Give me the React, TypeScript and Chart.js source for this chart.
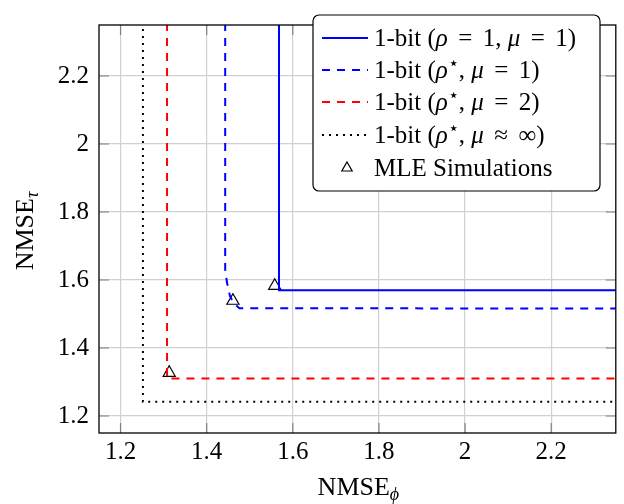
import { useEffect, useRef } from 'react';
import { Chart, registerables } from 'chart.js';

Chart.register(...registerables);

const tickValues = [1.2, 1.4, 1.6, 1.8, 2.0, 2.2];
const axisMin = 1.15;
const axisMax = 2.35;

const seriesNames = [
  '1-bit (ρ = 1, μ = 1)',
  '1-bit (ρ⋆, μ = 1)',
  '1-bit (ρ⋆, μ = 2)',
  '1-bit (ρ⋆, μ ≈ ∞)',
  'MLE Simulations',
];

const rho1Mu1X = [1.568, 1.568, 2.4];
const rho1Mu1Y = [2.4, 1.57, 1.57];

const rhoStarMu1X = [1.443, 1.443, 1.447, 1.454, 1.462, 1.476, 2.4];
const rhoStarMu1Y = [2.4, 1.631, 1.594, 1.553, 1.533, 1.517, 1.516];

const rhoStarMu2X = [1.308, 1.308, 2.4];
const rhoStarMu2Y = [2.4, 1.31, 1.31];

const rhoStarInfX = [1.252, 1.252, 2.4];
const rhoStarInfY = [2.4, 1.242, 1.242];

const mleX = [1.558, 1.461, 1.313];
const mleY = [1.583, 1.539, 1.327];

const SERIF = '"Liberation Serif", "DejaVu Serif", serif';

type Seg = [string, 'n' | 'i' | 'sup' | 'sub'];

const SP = '\u2004\u200A'; // math-like spacing around relations
const legendSegs: Seg[][] = [
  [['1-bit (', 'n'], ['ρ', 'i'], [SP + '=' + SP + '1, ', 'n'], ['μ', 'i'], [SP + '=' + SP + '1)', 'n']],
  [['1-bit (', 'n'], ['ρ', 'i'], ['⋆', 'sup'], [', ', 'n'], ['μ', 'i'], [SP + '=' + SP + '1)', 'n']],
  [['1-bit (', 'n'], ['ρ', 'i'], ['⋆', 'sup'], [', ', 'n'], ['μ', 'i'], [SP + '=' + SP + '2)', 'n']],
  [['1-bit (', 'n'], ['ρ', 'i'], ['⋆', 'sup'], [', ', 'n'], ['μ', 'i'], [SP + '≈' + SP + '∞)', 'n']],
  [['MLE Simulations', 'n']],
];

const pts = (xs: number[], ys: number[]) => xs.map((x, i) => ({ x, y: ys[i] }));

function fontFor(kind: string, size: number) {
  if (kind === 'i') return `italic ${size}px ${SERIF}`;
  if (kind === 'sup') return `${Math.round(size * 0.7)}px ${SERIF}`;
  if (kind === 'sub') return `italic ${Math.round(size * 0.7)}px ${SERIF}`;
  return `${size}px ${SERIF}`;
}

function drawSegs(ctx: CanvasRenderingContext2D, segs: Seg[], x: number, y: number, size: number, measureOnly = false) {
  let cx = x;
  for (const [t, k] of segs) {
    ctx.font = fontFor(k, size);
    let dy = 0;
    if (k === 'sup') dy = -size * 0.38;
    if (k === 'sub') dy = size * 0.2;
    if (!measureOnly) ctx.fillText(t, cx, y + dy);
    cx += ctx.measureText(t).width;
  }
  return cx - x;
}

const framePlugin = {
  id: 'frame',
  afterDatasetsDraw(chart: any) {
    const { ctx, chartArea: a, scales } = chart;
    ctx.save();
    ctx.strokeStyle = '#808080';
    ctx.lineWidth = 1.2;
    const tl = 10;
    for (const v of tickValues) {
      const px = scales.x.getPixelForValue(v);
      const py = scales.y.getPixelForValue(v);
      ctx.beginPath();
      ctx.moveTo(px, a.bottom); ctx.lineTo(px, a.bottom - tl);
      ctx.moveTo(px, a.top); ctx.lineTo(px, a.top + tl);
      ctx.moveTo(a.left, py); ctx.lineTo(a.left + tl, py);
      ctx.moveTo(a.right, py); ctx.lineTo(a.right - tl, py);
      ctx.stroke();
    }
    ctx.strokeStyle = '#000';
    ctx.lineWidth = 1.3;
    ctx.strokeRect(a.left, a.top, a.right - a.left, a.bottom - a.top);
    ctx.restore();
  },
  afterDraw(chart: any) {
    const { ctx, chartArea: a } = chart;
    ctx.save();
    const bx = 313, by = 15, bw = 287, bh = 176, r = 6;
    ctx.beginPath();
    ctx.moveTo(bx + r, by);
    ctx.arcTo(bx + bw, by, bx + bw, by + bh, r);
    ctx.arcTo(bx + bw, by + bh, bx, by + bh, r);
    ctx.arcTo(bx, by + bh, bx, by, r);
    ctx.arcTo(bx, by, bx + bw, by, r);
    ctx.closePath();
    ctx.fillStyle = '#fff';
    ctx.fill();
    ctx.strokeStyle = '#000';
    ctx.lineWidth = 1.2;
    ctx.stroke();

    const rows = [38, 70, 102, 135, 168];
    const dsets = chart.data.datasets;
    ctx.textBaseline = 'alphabetic';
    ctx.textAlign = 'left';
    rows.forEach((ry, i) => {
      const ds = dsets[i];
      if (i < 4) {
        ctx.beginPath();
        ctx.setLineDash(ds.borderDash || []);
        ctx.strokeStyle = ds.borderColor;
        ctx.lineWidth = ds.borderWidth;
        ctx.moveTo(322, ry);
        ctx.lineTo(368, ry);
        ctx.stroke();
        ctx.setLineDash([]);
      } else {
        const cx = 347, cy = ry, rr = 6;
        ctx.beginPath();
        ctx.moveTo(cx, cy - rr);
        ctx.lineTo(cx + rr * 0.866, cy + rr * 0.5);
        ctx.lineTo(cx - rr * 0.866, cy + rr * 0.5);
        ctx.closePath();
        ctx.strokeStyle = '#000';
        ctx.lineWidth = 1.2;
        ctx.stroke();
      }
      ctx.fillStyle = '#000';
      drawSegs(ctx, legendSegs[i], 374, ry + 8, 25);
    });

    ctx.fillStyle = '#000';
    const xt: Seg[] = [['NMSE', 'n'], ['ϕ', 'sub']];
    const xw = drawSegs(ctx, xt, 0, 0, 26, true);
    drawSegs(ctx, xt, (a.left + a.right) / 2 - xw / 2 + 1, 495, 26);

    const yt: Seg[] = [['NMSE', 'n'], ['τ', 'sub']];
    const yw = drawSegs(ctx, yt, 0, 0, 26, true);
    ctx.translate(33, (a.top + a.bottom) / 2 + 2);
    ctx.rotate(-Math.PI / 2);
    drawSegs(ctx, yt, -yw / 2, 0, 26);
    ctx.restore();
  },
};

export default function App() {
  const ref = useRef<HTMLCanvasElement | null>(null);
  useEffect(() => {
    let chart: Chart | null = null;
    let cancelled = false;
    const build = () => {
      if (cancelled || !ref.current) return;
      const tickCfg = {
        font: { family: SERIF, size: 25 },
        color: '#000',
        callback: (v: any) => String(Number(Number(v).toFixed(1))),
      };
      chart = new Chart(ref.current, {
        type: 'scatter',
        data: {
          datasets: [
            { label: seriesNames[0], data: pts(rho1Mu1X, rho1Mu1Y), showLine: true, borderColor: '#0000ff', borderWidth: 2, pointRadius: 0, tension: 0 },
            { label: seriesNames[1], data: pts(rhoStarMu1X, rhoStarMu1Y), showLine: true, borderColor: '#0000ff', borderWidth: 2, borderDash: [8, 7], pointRadius: 0, tension: 0 },
            { label: seriesNames[2], data: pts(rhoStarMu2X, rhoStarMu2Y), showLine: true, borderColor: '#ff0000', borderWidth: 2, borderDash: [8, 7], pointRadius: 0, tension: 0 },
            { label: seriesNames[3], data: pts(rhoStarInfX, rhoStarInfY), showLine: true, borderColor: '#000000', borderWidth: 2, borderDash: [2, 5], pointRadius: 0, tension: 0 },
            { label: seriesNames[4], data: pts(mleX, mleY), showLine: false, pointStyle: 'triangle', pointRadius: 7, borderColor: '#000', borderWidth: 1.2, backgroundColor: 'rgba(0,0,0,0)' },
          ] as any,
        },
        options: {
          animation: false,
          responsive: false,
          layout: { padding: { left: 0, top: 3, right: 8, bottom: 0 } },
          plugins: { legend: { display: false }, tooltip: { enabled: false } },
          scales: {
            x: {
              type: 'linear',
              min: axisMin,
              max: axisMax,
              afterBuildTicks: (s: any) => { s.ticks = tickValues.map((v) => ({ value: v })); },
              afterFit: (s: any) => { s.height = 71; },
              grid: { color: '#d0d0d0', lineWidth: 1.2, drawTicks: false },
              border: { display: false },
              ticks: { ...tickCfg, padding: 4, maxRotation: 0, autoSkip: false },
            },
            y: {
              type: 'linear',
              min: axisMin,
              max: axisMax,
              afterBuildTicks: (s: any) => { s.ticks = tickValues.map((v) => ({ value: v })); },
              afterFit: (s: any) => { s.width = 99; },
              grid: { color: '#d0d0d0', lineWidth: 1.2, drawTicks: false },
              border: { display: false },
              ticks: { ...tickCfg, padding: 10, autoSkip: false },
            },
          },
        } as any,
        plugins: [framePlugin],
      });
    };
    const fonts: any = (document as any).fonts;
    if (fonts && fonts.load) {
      Promise.all([
        fonts.load('25px "Liberation Serif"'),
        fonts.load('italic 25px "Liberation Serif"'),
      ]).then(build, build);
    } else {
      build();
    }
    return () => {
      cancelled = true;
      if (chart) chart.destroy();
    };
  }, []);
  return (
    <div style={{ position: 'fixed', left: 0, top: 0, width: 624, height: 504, background: '#fff' }}>
      <canvas ref={ref} width={624} height={504} style={{ display: 'block' }} />
    </div>
  );
}
